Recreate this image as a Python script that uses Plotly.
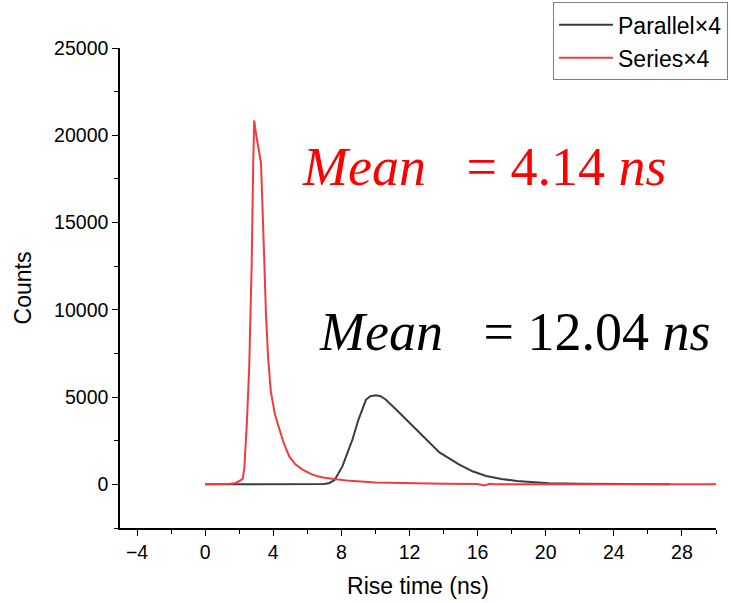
import plotly.graph_objects as go

# Rise time (ns) and counts for each series
series_x = [0, 0.5, 1.0, 1.5, 1.8, 2.0, 2.2, 2.3, 2.45, 2.59, 2.73, 2.82, 2.88, 3.0, 3.28,
            3.45, 3.57, 3.7, 3.86, 4.1, 4.35, 4.6, 4.94, 5.3, 5.7, 6.2, 6.6, 7.0, 7.7, 8.5,
            10, 12, 14, 16, 16.4, 16.7, 17, 18, 20, 24, 28, 30]
series_y = [0, 0, 0, 30, 80, 180, 300, 900, 3500, 6800, 12500, 18200, 20850, 20000, 18400,
            13500, 9800, 7200, 5300, 4000, 3150, 2400, 1600, 1150, 860, 600, 460, 380, 290, 200,
            110, 60, 40, 20, -60, 30, 10, 5, 0, 0, 0, 0]

parallel_x = [0, 2, 4, 6, 6.5, 7.0, 7.3, 7.6, 8.06, 8.4, 8.65, 9.0, 9.45, 9.7, 10.04, 10.3,
              10.6, 11.2, 11.8, 12.8, 13.76, 14.9, 15.7, 16.5, 17.4, 18.3, 20.2, 22, 24, 26, 27.3]
parallel_y = [0, 0, 0, 0, 5, 20, 80, 250, 1030, 1900, 2570, 3700, 4860, 5050, 5110, 5050,
              4860, 4300, 3720, 2750, 1830, 1140, 750, 480, 310, 190, 60, 30, 15, 8, 0]

x_ticks = [-4, 0, 4, 8, 12, 16, 20, 24, 28]
y_ticks = [0, 5000, 10000, 15000, 20000, 25000]

fig = go.Figure()
fig.add_trace(go.Scatter(x=parallel_x, y=parallel_y, mode="lines", name="Parallel×4",
                         line=dict(color="#3c3c3c", width=2)))
fig.add_trace(go.Scatter(x=series_x, y=series_y, mode="lines", name="Series×4",
                         line=dict(color="rgb(240,60,60)", width=2)))

fig.add_annotation(x=16.35, y=18190, xref="x", yref="y", showarrow=False,
                   text="<i>Mean</i>&nbsp;&nbsp;&nbsp;= 4.14 <i>ns</i>",
                   font=dict(family="Liberation Serif", size=54, color="#ff0000"),
                   xanchor="center", yanchor="middle")
fig.add_annotation(x=18.18, y=8750, xref="x", yref="y", showarrow=False,
                   text="<i>Mean</i>&nbsp;&nbsp;&nbsp;= 12.04 <i>ns</i>",
                   font=dict(family="Liberation Serif", size=54, color="#000000"),
                   xanchor="center", yanchor="middle")

axis_common = dict(showline=True, linecolor="black", linewidth=1.5, showgrid=False,
                   zeroline=False, ticks="outside", ticklen=6, tickcolor="black",
                   tickfont=dict(family="Liberation Sans", size=19.5, color="black"))

fig.update_xaxes(range=[-5, 30], tickvals=x_ticks, ticktext=[("\u2212" + str(-v)) if v < 0 else str(v) for v in x_ticks],
                 title=dict(text="Rise time (ns)", font=dict(family="Liberation Sans", size=23, color="black"),
                            standoff=16),
                 minor=dict(dtick=2, tick0=0, ticklen=4, tickcolor="black", ticks="outside"),
                 **axis_common)
fig.update_yaxes(range=[-2500, 25000], tickvals=y_ticks, ticktext=[str(v) for v in y_ticks],
                 title=dict(text="Counts", font=dict(family="Liberation Sans", size=23, color="black"),
                            standoff=16),
                 minor=dict(dtick=2500, tick0=0, ticklen=4, tickcolor="black", ticks="outside"),
                 **axis_common)

fig.update_layout(
    width=731, height=603,
    margin=dict(l=120, r=15, t=48, b=75, autoexpand=False),
    plot_bgcolor="white", paper_bgcolor="white",
    legend=dict(x=0.7265, y=1.095, xanchor="left", yanchor="top",
                bordercolor="#808080", borderwidth=1, bgcolor="white",
                font=dict(family="Liberation Sans", size=23, color="black"),
                itemwidth=54, tracegroupgap=0),
    showlegend=True,
)

fig.write_html("out.html")
